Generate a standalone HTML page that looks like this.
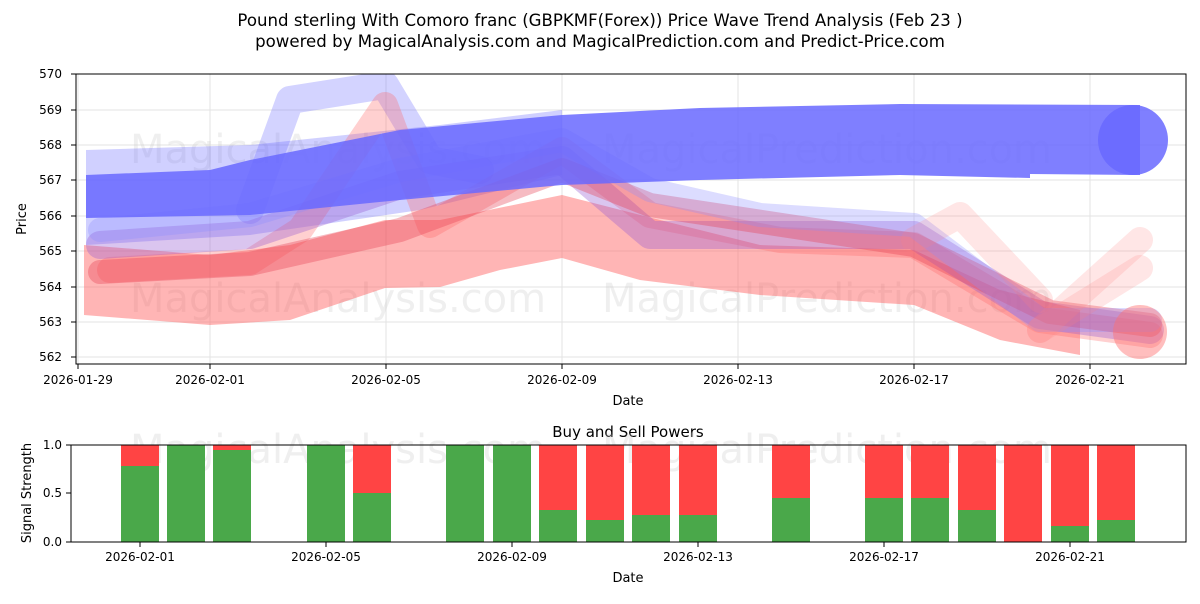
<!DOCTYPE html>
<html><head><meta charset="utf-8"><style>
body{margin:0;background:#fff;font-family:"DejaVu Sans","Liberation Sans",sans-serif;}
svg text{font-family:"DejaVu Sans","Liberation Sans",sans-serif;}
</style></head><body>
<svg width="1200" height="600" xmlns="http://www.w3.org/2000/svg">
<rect width="1200" height="600" fill="#fff"/>
<text x="600" y="26" font-size="16.6" text-anchor="middle">Pound sterling With Comoro franc (GBPKMF(Forex)) Price Wave Trend Analysis (Feb 23 )</text>
<text x="600" y="47" font-size="16.6" text-anchor="middle">powered by MagicalAnalysis.com and MagicalPrediction.com and Predict-Price.com</text>
<defs><clipPath id="c1"><rect x="76" y="74" width="1110" height="290"/></clipPath></defs>
<g stroke="#e3e3e3" stroke-width="1">
<line x1="76" x2="1186" y1="110" y2="110"/><line x1="76" x2="1186" y1="145" y2="145"/><line x1="76" x2="1186" y1="180" y2="180"/><line x1="76" x2="1186" y1="216" y2="216"/><line x1="76" x2="1186" y1="251" y2="251"/><line x1="76" x2="1186" y1="287" y2="287"/><line x1="76" x2="1186" y1="322" y2="322"/><line x1="76" x2="1186" y1="357" y2="357"/>
<line y1="74" y2="364" x1="78" x2="78"/><line y1="74" y2="364" x1="210" x2="210"/><line y1="74" y2="364" x1="386" x2="386"/><line y1="74" y2="364" x1="562" x2="562"/><line y1="74" y2="364" x1="738" x2="738"/><line y1="74" y2="364" x1="914" x2="914"/><line y1="74" y2="364" x1="1090" x2="1090"/>
</g>
<g font-size="40" fill="#ccc" opacity="0.3">
<text x="130" y="163">MagicalAnalysis.com</text><text x="602" y="163">MagicalPrediction.com</text>
<text x="130" y="312">MagicalAnalysis.com</text><text x="602" y="312">MagicalPrediction.com</text>
</g>
<g clip-path="url(#c1)" stroke-linejoin="round" stroke-linecap="round">
<polygon fill="rgba(255,90,90,0.45)" points="84,245 210,255 290,245 385,220 440,220 562,195 660,220 760,245 914,250 1000,290 1080,310 1080,355 1000,340 914,305 760,295 640,280 562,258 500,270 440,287 385,288 290,320 210,325 84,315"/>
<polygon fill="rgba(100,100,255,0.3)" points="86,150 250,145 440,125 562,110 562,175 420,210 250,235 86,245"/>
<polyline fill="none" stroke="rgba(110,110,255,0.3)" stroke-width="28" points="250,210 290,100 385,85 430,160 480,170"/>
<polyline fill="none" stroke="rgba(255,100,100,0.3)" stroke-width="26" points="110,270 250,262 300,230 385,105 430,225 562,150 650,215 780,240 914,245 1040,320 1150,335"/>
<polyline fill="none" stroke="rgba(150,90,210,0.35)" stroke-width="28" points="100,245 250,235 400,185 562,160 650,235 760,235 914,235 1040,315 1150,330"/>
<polyline fill="none" stroke="rgba(230,60,80,0.35)" stroke-width="24" points="100,272 250,264 400,230 562,170 650,205 914,245 1050,312 1150,325"/>
<polyline fill="none" stroke="rgba(140,140,255,0.3)" stroke-width="24" points="100,230 250,215 400,170 562,140 650,190 760,215 914,225 1040,320 1150,320"/>
<polyline fill="none" stroke="rgba(255,130,130,0.2)" stroke-width="26" points="1040,330 1140,240"/>
<polyline fill="none" stroke="rgba(255,130,130,0.2)" stroke-width="26" points="1040,330 1140,268"/>
<polyline fill="none" stroke="rgba(255,130,130,0.2)" stroke-width="26" points="914,240 960,215 1040,300"/>
<circle cx="1140" cy="332" r="27" fill="rgba(255,110,110,0.45)"/>
<polygon fill="rgba(105,105,255,0.85)" points="86,175 210,170 250,160 400,130 562,115 700,108 900,104 1140,105 1140,175 1030,174 1030,178 900,175 700,180 562,185 400,200 250,215 86,218"/>
<circle cx="1133" cy="140" r="35" fill="rgba(105,105,255,0.85)"/>
</g>
<rect x="76" y="74" width="1110" height="290" fill="none" stroke="#000" stroke-width="1"/>
<g font-size="12" text-anchor="end">
<text x="62" y="78">570</text><text x="62" y="114">569</text><text x="62" y="149">568</text><text x="62" y="184">567</text><text x="62" y="220">566</text><text x="62" y="255">565</text><text x="62" y="291">564</text><text x="62" y="326">563</text><text x="62" y="361">562</text>
</g>
<g stroke="#000"><line x1="71" x2="76" y1="74" y2="74"/><line x1="71" x2="76" y1="110" y2="110"/><line x1="71" x2="76" y1="145" y2="145"/><line x1="71" x2="76" y1="180" y2="180"/><line x1="71" x2="76" y1="216" y2="216"/><line x1="71" x2="76" y1="251" y2="251"/><line x1="71" x2="76" y1="287" y2="287"/><line x1="71" x2="76" y1="322" y2="322"/><line x1="71" x2="76" y1="357" y2="357"/>
<line y1="364" y2="369" x1="78" x2="78"/><line y1="364" y2="369" x1="210" x2="210"/><line y1="364" y2="369" x1="386" x2="386"/><line y1="364" y2="369" x1="562" x2="562"/><line y1="364" y2="369" x1="738" x2="738"/><line y1="364" y2="369" x1="914" x2="914"/><line y1="364" y2="369" x1="1090" x2="1090"/></g>
<g font-size="12" text-anchor="middle">
<text x="78" y="384">2026-01-29</text><text x="210" y="384">2026-02-01</text><text x="386" y="384">2026-02-05</text><text x="562" y="384">2026-02-09</text><text x="738" y="384">2026-02-13</text><text x="914" y="384">2026-02-17</text><text x="1090" y="384">2026-02-21</text>
<text x="628" y="405" font-size="13">Date</text>
<text x="628" y="437" font-size="15">Buy and Sell Powers</text>
<text x="628" y="582" font-size="13">Date</text>
</g>
<text transform="translate(26,219) rotate(-90)" font-size="13" text-anchor="middle">Price</text>
<text transform="translate(31,493) rotate(-90)" font-size="13" text-anchor="middle">Signal Strength</text>
<g font-size="40" fill="#ccc" opacity="0.3"><text x="130" y="463">MagicalAnalysis.com</text><text x="602" y="463">MagicalPrediction.com</text></g>
<g>
<rect x="121" y="445" width="38" height="97" fill="#ff4444"/><rect x="121" y="466" width="38" height="76" fill="#4aa84a"/>
<rect x="167" y="445" width="38" height="97" fill="#4aa84a"/>
<rect x="213" y="445" width="38" height="97" fill="#ff4444"/><rect x="213" y="450" width="38" height="92" fill="#4aa84a"/>
<rect x="307" y="445" width="38" height="97" fill="#4aa84a"/>
<rect x="353" y="445" width="38" height="97" fill="#ff4444"/><rect x="353" y="493" width="38" height="49" fill="#4aa84a"/>
<rect x="446" y="445" width="38" height="97" fill="#4aa84a"/>
<rect x="493" y="445" width="38" height="97" fill="#4aa84a"/>
<rect x="539" y="445" width="38" height="97" fill="#ff4444"/><rect x="539" y="510" width="38" height="32" fill="#4aa84a"/>
<rect x="586" y="445" width="38" height="97" fill="#ff4444"/><rect x="586" y="520" width="38" height="22" fill="#4aa84a"/>
<rect x="632" y="445" width="38" height="97" fill="#ff4444"/><rect x="632" y="515" width="38" height="27" fill="#4aa84a"/>
<rect x="679" y="445" width="38" height="97" fill="#ff4444"/><rect x="679" y="515" width="38" height="27" fill="#4aa84a"/>
<rect x="772" y="445" width="38" height="97" fill="#ff4444"/><rect x="772" y="498" width="38" height="44" fill="#4aa84a"/>
<rect x="865" y="445" width="38" height="97" fill="#ff4444"/><rect x="865" y="498" width="38" height="44" fill="#4aa84a"/>
<rect x="911" y="445" width="38" height="97" fill="#ff4444"/><rect x="911" y="498" width="38" height="44" fill="#4aa84a"/>
<rect x="958" y="445" width="38" height="97" fill="#ff4444"/><rect x="958" y="510" width="38" height="32" fill="#4aa84a"/>
<rect x="1004" y="445" width="38" height="97" fill="#ff4444"/>
<rect x="1051" y="445" width="38" height="97" fill="#ff4444"/><rect x="1051" y="526" width="38" height="16" fill="#4aa84a"/>
<rect x="1097" y="445" width="38" height="97" fill="#ff4444"/><rect x="1097" y="520" width="38" height="22" fill="#4aa84a"/>
</g>
<rect x="71" y="445" width="1115" height="97" fill="none" stroke="#000"/>
<g stroke="#000"><line x1="66" x2="71" y1="445" y2="445"/><line x1="66" x2="71" y1="493" y2="493"/><line x1="66" x2="71" y1="542" y2="542"/>
<line y1="542" y2="547" x1="140" x2="140"/><line y1="542" y2="547" x1="326" x2="326"/><line y1="542" y2="547" x1="512" x2="512"/><line y1="542" y2="547" x1="698" x2="698"/><line y1="542" y2="547" x1="884" x2="884"/><line y1="542" y2="547" x1="1070" x2="1070"/></g>
<g font-size="12" text-anchor="end"><text x="62" y="449">1.0</text><text x="62" y="497">0.5</text><text x="62" y="546">0.0</text></g>
<g font-size="12" text-anchor="middle"><text x="140" y="561">2026-02-01</text><text x="326" y="561">2026-02-05</text><text x="512" y="561">2026-02-09</text><text x="698" y="561">2026-02-13</text><text x="884" y="561">2026-02-17</text><text x="1070" y="561">2026-02-21</text></g>
</svg>
</body></html>
